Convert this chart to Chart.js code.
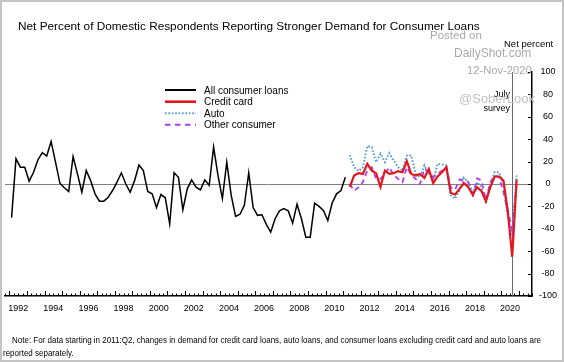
<!DOCTYPE html>
<html><head><meta charset="utf-8">
<script src="https://cdn.jsdelivr.net/npm/chart.js@4.4.1/dist/chart.umd.min.js"></script>
<style>html,body{margin:0;padding:0;background:#fff;}#wrap{position:relative;width:564px;height:362px;}canvas{display:block;}</style>
</head><body><div id="wrap"><canvas id="c" width="564" height="362"></canvas></div>
<script>
// ---- data (quarterly, net percent) ----
const allStart = 1992.0;      // 1992:Q1
const splitStart = 2011.25;   // 2011:Q2
const allConsumer = [-30, 22.5, 15, 15, 2.5, 10.5, 21.6, 28, 25, 38, 19.5, 0.7, -3.4, -6.7, 24.5, 9, -7.3, 12, 3, -8.8,
  -15.3, -15.3, -11.8, -5.8, 1.6, 10, 0, -7.3, 3, 17, 12, -6.7, -8.8, -21, -9.4, -12.3, -35.5, 10, 6, -23,
  -4.3, 3.7, -2.8, -5.2, 3.7, -1.3, 33, 7.6, -13, 19.5, -10, -29, -27, -19, 10, -21, -28, -27.5, -36, -43,
  -31, -24, -22, -24, -35, -18, -31, -47.5, -47.5, -17, -20, -23.7, -32.6, -17, -8.8, -5.8, 6];
const creditCard = [-2.5, 7.6, 9.7, 9, 18, 12, 9.7, -2.8, 12, 9, 9.7, 11.5, 10.5, 20.4, 9, 7.6, 9, 5.5, 13.5, 0.7,
  6.7, 10.5, 15, -8, -9.4, -4.3, 0.7, -2.8, -9.4, -2.8, -6.4, -15.3, -2.8, 6.7, 6.7, 3, -25, -65, 4];
const autoLoans = [26, 15, 11.5, 15, 34, 33, 19.5, 27, 19.5, 27.5, 21, 15, 12, 25.4, 25.4, 9, 6, 16.5, 9, 3,
  18, 17.4, 16.5, -10, -13, -5.8, 5.5, 1.6, -7.3, 1.6, -2.8, -17.7, -1.3, 10.5, 10.5, 0, -30, -46, 7.6];
const otherConsumer = [0, -6, -3, 2, 12, 15, 4.6, 4.6, 9, 15, 8, 4.6, 1.6, 15, 8, 4.6, 0, 13.5, 10.5, 6,
  9, 12, 15, -3, -5, 4, 3.7, 1.6, -12, 5, 3, -14.7, 1.6, 7.6, 6, -7.3, -23.7, -41.5, 0];
const seriesNames = ['All consumer loans', 'Credit card', 'Auto', 'Other consumer'];
const yearLabels = [1992,1994,1996,1998,2000,2002,2004,2006,2008,2010,2012,2014,2016,2018,2020];
const yTickStep = 20;
const julySurvey = 2020.5;

const titleText = 'Net Percent of Domestic Respondents Reporting Stronger Demand for Consumer Loans';
const noteLines = ['Note: For data starting in 2011:Q2, changes in demand for credit card loans, auto loans, and consumer loans excluding credit card and auto loans are',
  'reported separately.'];

// ---- fonts ----
function fontAvailable(name){
  const c = document.createElement('canvas').getContext('2d');
  const t = '1992 Reporting mmmWWWiii';
  c.font = '40px monospace'; const a = c.measureText(t).width;
  c.font = "40px '" + name + "', monospace"; const b = c.measureText(t).width;
  return Math.abs(a - b) > 0.5;
}
const hasNarrow = fontAvailable('Liberation Sans Narrow');
const tickFont = hasNarrow ? {family: "'Liberation Sans Narrow', 'Liberation Sans', Arial, sans-serif", size: 9.5}
                           : {family: "'Liberation Sans', Arial, sans-serif", size: 9};
const SANS = "'Liberation Sans', Arial, sans-serif";

const toPts = (arr, start) => arr.map((v, i) => ({x: start + i * 0.25, y: v}));

const styles = [
  {borderColor: '#000000', borderWidth: 1.5, borderDash: [], order: 3},
  {borderColor: '#e3171c', borderWidth: 2.2, borderDash: [], order: 0},
  {borderColor: '#4f9fdc', borderWidth: 2, borderDash: [1.6, 1.8], order: 2},
  {borderColor: '#b03cf0', borderWidth: 1.8, borderDash: [5, 4], order: 1}
];
const dataArrays = [toPts(allConsumer, allStart), toPts(creditCard, splitStart), toPts(autoLoans, splitStart), toPts(otherConsumer, splitStart)];

const deco = {
  id: 'deco',
  beforeDatasetsDraw(chart){
    const {ctx, chartArea: a, scales: {x, y}} = chart;
    ctx.save();
    ctx.strokeStyle = '#808080'; ctx.lineWidth = 1;
    const y0 = Math.round(y.getPixelForValue(0)) + 0.5;
    ctx.beginPath(); ctx.moveTo(a.left, y0); ctx.lineTo(a.right, y0); ctx.stroke();
    ctx.strokeStyle = '#6a6a6a';
    const xv = Math.round(x.getPixelForValue(julySurvey)) + 0.5;
    ctx.beginPath(); ctx.moveTo(xv, a.top); ctx.lineTo(xv, a.bottom); ctx.stroke();
    ctx.restore();
  },
  afterDraw(chart){
    const {ctx, chartArea: a, scales: {x, y}} = chart;
    ctx.save();
    // x-axis quarterly tick marks (inward)
    ctx.strokeStyle = '#000'; ctx.lineWidth = 1;
    ctx.beginPath();
    for (let t = x.min; t <= x.max + 1e-6; t += 0.25) {
      const px = Math.round(x.getPixelForValue(t)) + 0.5;
      const f = (((t + 0.125) % 1) + 1) % 1;
      const major = f < 1e-6 || Math.abs(f - 1) < 1e-6;
      const len = major ? 5 : 2.5;
      ctx.moveTo(px, a.bottom); ctx.lineTo(px, a.bottom - len);
    }
    ctx.stroke();
    // y-axis ticks (inward)
    ctx.lineWidth = 1.2;
    ctx.beginPath();
    for (let v = y.min; v <= y.max; v += yTickStep) {
      const py = Math.round(y.getPixelForValue(v)) + 0.5;
      ctx.moveTo(a.right, py); ctx.lineTo(a.right - 4, py);
    }
    ctx.stroke();

    // legend
    const ds = chart.data.datasets;
    const rows = [90, 101.7, 113.2, 124.7];
    ctx.font = '10px ' + SANS; ctx.fillStyle = '#000'; ctx.textBaseline = 'alphabetic';
    ds.forEach((d, i) => {
      ctx.save();
      ctx.strokeStyle = d.borderColor; ctx.lineWidth = i === 0 ? 2 : (i === 1 ? 2.6 : 2);
      ctx.setLineDash(i === 2 ? [1.6, 1.8] : (i === 3 ? [5.5, 4.5] : []));
      ctx.beginPath(); ctx.moveTo(165, rows[i]); ctx.lineTo(196, rows[i]); ctx.stroke();
      ctx.restore();
      ctx.fillText(d.label, 204, rows[i] + 3.6);
    });

    // title
    ctx.fillStyle = '#000';
    ctx.font = '11.8px ' + SANS;
    ctx.fillText(titleText, 18, 30);
    // axis unit
    ctx.font = '9.5px ' + SANS;
    ctx.fillText('Net percent', 504, 47);
    // July survey
    ctx.font = '9px ' + SANS; ctx.textAlign = 'right';
    ctx.fillText('July', 510, 97);
    ctx.fillText('survey', 510, 111);
    ctx.textAlign = 'left';
    // note
    ctx.font = '9px ' + SANS;
    const w1 = ctx.measureText(noteLines[0]).width;
    const sx = 529 / w1;
    ctx.save(); ctx.translate(12, 343); ctx.scale(sx, 1); ctx.fillText(noteLines[0], 0, 0); ctx.restore();
    ctx.save(); ctx.translate(3, 356); ctx.scale(sx, 1); ctx.fillText(noteLines[1], 0, 0); ctx.restore();
    // watermark
    ctx.fillStyle = '#a9a9a9';
    ctx.font = '11.5px ' + SANS; ctx.fillText('Posted on', 430, 39);
    ctx.font = '12px ' + SANS; ctx.fillText('DailyShot.com', 454, 57);
    ctx.font = '11.2px ' + SANS; ctx.fillText('12-Nov-2020', 467, 74);
    ctx.fillStyle = '#c2c2c2';
    ctx.font = '13px ' + SANS; ctx.fillText('@SoberLook', 459, 103);
    // frame
    ctx.strokeStyle = '#c4c4c4'; ctx.lineWidth = 2;
    ctx.strokeRect(1, 1, chart.width - 2, chart.height - 2);
    ctx.restore();
  }
};

new Chart(document.getElementById('c'), {
  type: 'line',
  data: {
    datasets: dataArrays.map((d, i) => Object.assign({
      label: seriesNames[i], data: d, pointRadius: 0, tension: 0, fill: false,
      borderCapStyle: 'butt', borderJoinStyle: 'miter'
    }, styles[i]))
  },
  options: {
    responsive: false, animation: false, devicePixelRatio: 1,
    layout: {padding: {left: 5, top: 72, right: 0, bottom: 0}},
    plugins: {legend: {display: false}, tooltip: {enabled: false}, title: {display: false}},
    scales: {
      x: {
        type: 'linear', position: 'bottom', min: 1991.625, max: 2021.625,
        afterFit(s){ s.height = 66; },
        afterBuildTicks(s){ s.ticks = yearLabels.map(v => ({value: v + 0.375})); },
        ticks: {autoSkip: false, maxRotation: 0, padding: 7, color: '#000', font: tickFont,
          callback: v => String(Math.round(v - 0.375))},
        grid: {display: true, drawOnChartArea: false, drawTicks: false},
        border: {display: true, color: '#000', width: 1.5}
      },
      y: {
        type: 'linear', position: 'right', min: -100, max: 100,
        afterFit(s){ s.width = 32; },
        ticks: {stepSize: yTickStep, padding: 7, crossAlign: 'center', color: '#000', font: tickFont},
        grid: {display: true, drawOnChartArea: false, drawTicks: false},
        border: {display: true, color: '#000', width: 1.5}
      }
    }
  },
  plugins: [deco]
});
</script></body></html>
